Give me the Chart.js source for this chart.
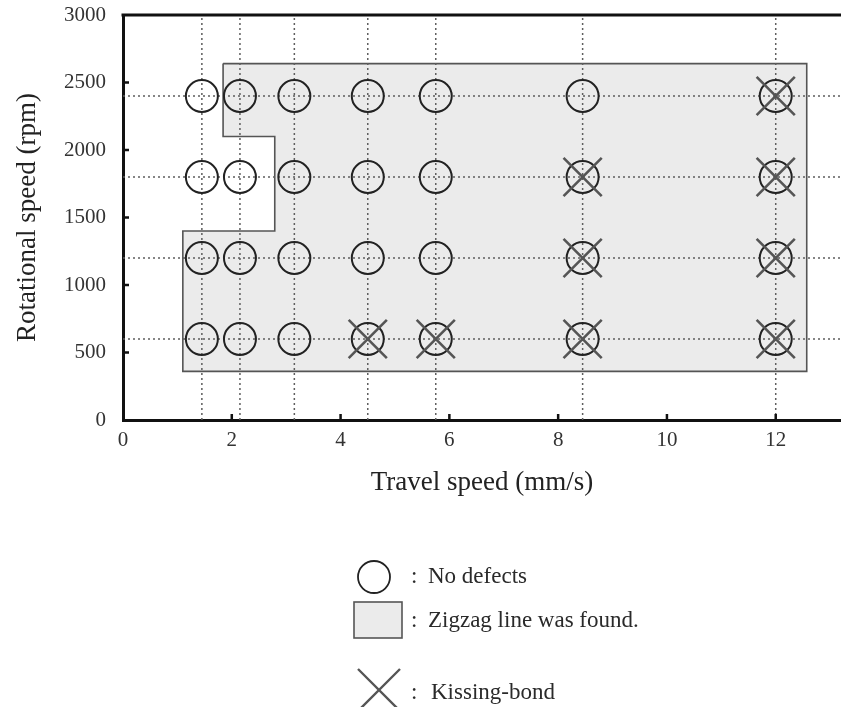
<!DOCTYPE html>
<html>
<head>
<meta charset="utf-8">
<script src="https://cdn.jsdelivr.net/npm/chart.js@4.4.1/dist/chart.umd.min.js"></script>
<style>
  html, body { margin: 0; padding: 0; background: #fff; }
  #wrap { width: 841px; height: 707px; position: relative; }
</style>
</head>
<body>
<div id="wrap"><canvas id="chart"></canvas></div>
<script>
// tested welding conditions
const travelSpeeds = [1.45, 2.15, 3.15, 4.5, 5.75, 8.45, 12];   // mm/s
const rotSpeeds = [600, 1200, 1800, 2400];                       // rpm

// conditions where a kissing-bond was found
const kissX = [4.5, 5.75, 8.45, 12, 8.45, 12, 8.45, 12, 12];
const kissY = [600, 600, 600, 600, 1200, 1200, 1800, 1800, 2400];

// outline of the zone where the zigzag line was found
const zoneX = [1.84, 12.57, 12.57, 1.1, 1.1, 2.79, 2.79, 1.84, 1.84];
const zoneY = [2640, 2640, 360, 360, 1400, 1400, 2100, 2100, 2640];

const xTicks = [0, 2, 4, 6, 8, 10, 12];
const yTicks = [0, 500, 1000, 1500, 2000, 2500, 3000];
const xMax = 13.2;

const legendLabels = ['No defects', 'Zigzag line was found.', 'Kissing-bond'];

const serif = "'Liberation Serif', 'Times New Roman', serif";

// --- datasets ---
const testedPoints = [];
rotSpeeds.forEach(y => travelSpeeds.forEach(x => testedPoints.push({ x, y })));

const guideStyle = {
    type: 'line',
    borderColor: '#5e5e5e',
    borderWidth: 1.5,
    borderDash: [2, 3],
    pointRadius: 0,
    fill: false,
    order: 3
};

const datasets = [
    {
        type: 'line',
        label: legendLabels[1],
        data: zoneX.map((x, i) => ({ x, y: zoneY[i] })),
        borderColor: '#555',
        borderWidth: 1.6,
        backgroundColor: '#ebebeb',
        fill: 'shape',
        pointRadius: 0,
        tension: 0,
        order: 4
    },
    ...travelSpeeds.map(x => ({ ...guideStyle, data: [{ x, y: yTicks[0] }, { x, y: yTicks[yTicks.length - 1] }] })),
    ...rotSpeeds.map(y => ({ ...guideStyle, data: [{ x: 0, y }, { x: xMax, y }] })),
    {
        type: 'scatter',
        label: legendLabels[0],
        data: testedPoints,
        pointStyle: 'circle',
        pointRadius: 16,
        pointBorderWidth: 2,
        pointBorderColor: '#222',
        pointBackgroundColor: 'rgba(0,0,0,0)',
        order: 2
    },
    {
        type: 'scatter',
        label: legendLabels[2],
        data: kissX.map((x, i) => ({ x, y: kissY[i] })),
        pointStyle: 'crossRot',
        pointRadius: 27,
        pointBorderWidth: 2.6,
        pointBorderColor: '#555',
        order: 1
    }
];

// keep the plot box where the layout padding puts it
const noScalePadding = s => {
    s.paddingTop = 0;
    s.paddingBottom = 0;
    s.paddingLeft = 0;
    s.paddingRight = 0;
};

// top frame, inward tick marks and the legend under the plot
const framePlugin = {
    id: 'frame',
    afterDraw(chart) {
        const { ctx, chartArea: a, scales: { x, y } } = chart;
        ctx.save();
        ctx.strokeStyle = '#111';
        ctx.lineWidth = 3;
        ctx.beginPath();
        ctx.moveTo(a.left - 1.5, a.top);
        ctx.lineTo(a.right, a.top);
        ctx.stroke();

        ctx.lineWidth = 2.5;
        ctx.beginPath();
        yTicks.slice(1, -1).forEach(v => {
            const py = y.getPixelForValue(v);
            ctx.moveTo(a.left, py);
            ctx.lineTo(a.left + 6, py);
        });
        xTicks.slice(1).forEach(v => {
            const px = x.getPixelForValue(v);
            ctx.moveTo(px, a.bottom);
            ctx.lineTo(px, a.bottom - 6);
        });
        ctx.stroke();

        // legend
        ctx.strokeStyle = '#222';
        ctx.lineWidth = 1.8;
        ctx.beginPath();
        ctx.arc(374, 577, 16, 0, Math.PI * 2);
        ctx.stroke();

        ctx.fillStyle = '#ebebeb';
        ctx.fillRect(354, 602, 48, 36);
        ctx.strokeStyle = '#555';
        ctx.lineWidth = 1.6;
        ctx.strokeRect(354, 602, 48, 36);

        ctx.lineWidth = 2.4;
        ctx.beginPath();
        ctx.moveTo(358, 669); ctx.lineTo(400, 711);
        ctx.moveTo(400, 669); ctx.lineTo(358, 711);
        ctx.stroke();

        ctx.fillStyle = '#2a2a2a';
        ctx.font = '23px ' + serif;
        ctx.textBaseline = 'middle';
        ctx.textAlign = 'left';
        [[577, 428], [621, 428], [693, 431]].forEach(([ty, tx], i) => {
            ctx.fillText(':', 411, ty);
            ctx.fillText(legendLabels[i], tx, ty);
        });
        ctx.restore();
    }
};

new Chart(document.getElementById('chart'), {
    type: 'scatter',
    data: { datasets },
    plugins: [framePlugin],
    options: {
        responsive: true,
        maintainAspectRatio: false,
        animation: false,
        events: [],
        layout: { autoPadding: false, padding: { top: 15, right: 0, bottom: 197, left: 0 } },
        plugins: {
            legend: { display: false },
            tooltip: { enabled: false }
        },
        scales: {
            x: {
                type: 'linear',
                min: 0,
                max: xMax,
                afterBuildTicks: s => { s.ticks = xTicks.map(v => ({ value: v })); },
                afterFit: s => { s.height = 90; noScalePadding(s); },
                grid: { display: false, drawTicks: false },
                border: { display: true, color: '#111', width: 3 },
                ticks: {
                    padding: 8,
                    color: '#333',
                    font: { family: serif, size: 21 },
                    maxRotation: 0,
                    callback: v => String(v)
                },
                title: {
                    display: true,
                    text: 'Travel speed (mm/s)',
                    color: '#222',
                    font: { family: serif, size: 27 },
                    padding: { top: 4, bottom: 11 }
                }
            },
            y: {
                type: 'linear',
                min: 0,
                max: 3000,
                afterBuildTicks: s => { s.ticks = yTicks.map(v => ({ value: v })); },
                afterFit: s => { s.width = 123; noScalePadding(s); },
                grid: { display: false, drawTicks: false },
                border: { display: true, color: '#111', width: 3 },
                ticks: {
                    padding: 17,
                    color: '#333',
                    font: { family: serif, size: 21 },
                    callback: v => String(v)
                },
                title: {
                    display: true,
                    text: 'Rotational speed (rpm)',
                    color: '#222',
                    font: { family: serif, size: 27 },
                    padding: { top: 12, bottom: 0 }
                }
            }
        }
    }
});
</script>
</body>
</html>
